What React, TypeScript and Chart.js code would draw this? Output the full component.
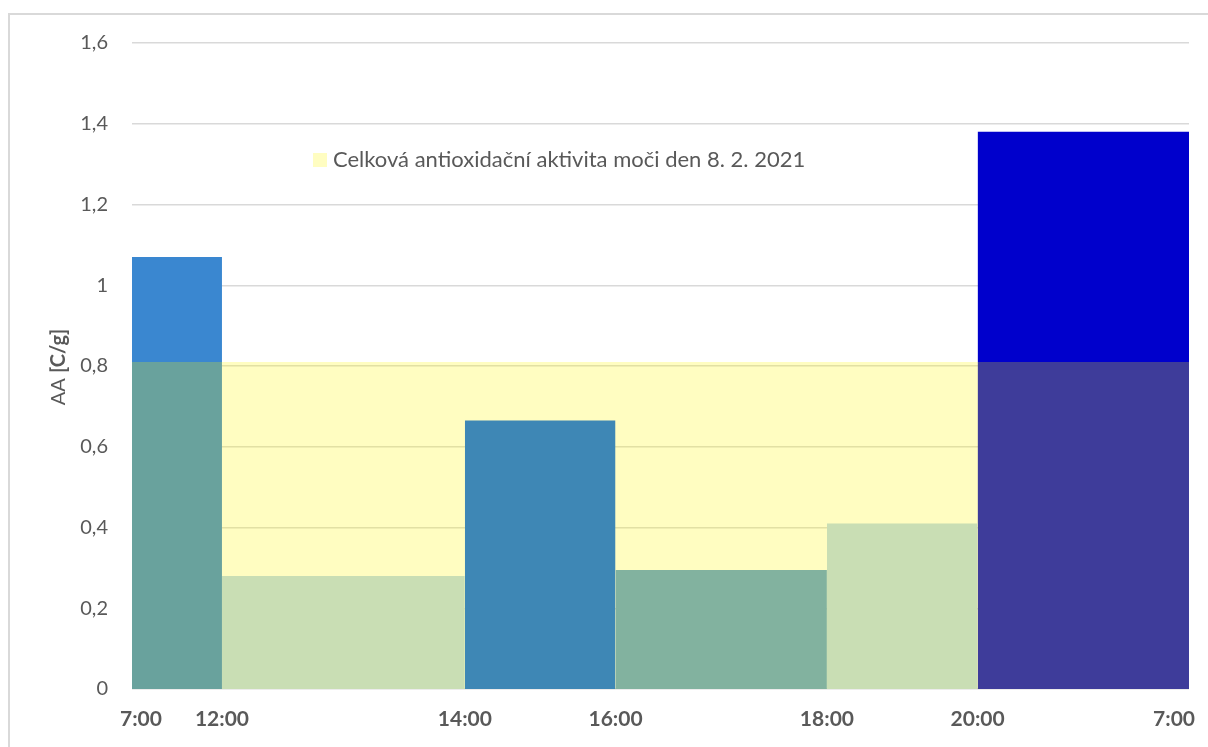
import { useEffect, useRef } from "react";
import { Chart, registerables } from "chart.js";

Chart.register(...registerables);

// Interval boundaries along the x axis (collected volume, ml, cumulative)
const boundaries = [0, 200, 740, 1075, 1545, 1880, 2350];
// Collection times shown at each boundary
const timeLabels = ["7:00", "12:00", "14:00", "16:00", "18:00", "20:00", "7:00"];
// Antioxidant activity of each collected portion
const aaValues = [1.07, 0.28, 0.665, 0.295, 0.41, 1.38];
const barColors = [
  "rgb(58,135,208)",
  "rgb(184,215,238)",
  "rgb(0,100,240)",
  "rgb(90,156,211)",
  "rgb(184,215,238)",
  "rgb(0,0,204)",
];
// Whole-day antioxidant activity
const dailyAA = 0.81;
const dailyLabel = "Celková antioxidační aktivita moči den 8. 2. 2021";
const dailyFill = "rgba(255,247,0,0.243)";
const dailySwatch = "rgb(255,253,193)";

const yMin = 0;
const yMax = 1.6;
const yStep = 0.2;

const FONT = "Lato, 'Open Sans', sans-serif";
const TEXT = "#595959";

const decorations = {
  id: "decorations",
  afterDraw(chart: any) {
    const ctx = chart.ctx as CanvasRenderingContext2D;
    ctx.save();
    // outer frame
    ctx.strokeStyle = "#d9d9d9";
    ctx.lineWidth = 2;
    ctx.strokeRect(9, 14, 1400, 1000);

    // time labels under the x axis; the end labels are kept inside the frame
    const xScale = chart.scales.x;
    ctx.fillStyle = TEXT;
    ctx.font = `bold 21px ${FONT}`;
    ctx.textBaseline = "middle";
    ctx.textAlign = "left";
    const labelY = xScale.top + 30;
    boundaries.forEach((b, i) => {
      const text = timeLabels[i];
      const w = ctx.measureText(text).width;
      const px = xScale.getPixelForValue(b);
      const left = Math.min(Math.max(px - w / 2, 120), 1195 - w);
      ctx.fillText(text, left, labelY);
    });

    // legend inside the plot
    ctx.fillStyle = dailySwatch;
    ctx.fillRect(313, 153, 14, 14);
    ctx.fillStyle = TEXT;
    ctx.font = `22px ${FONT}`;
    ctx.fillText(dailyLabel, 333, 160);

    // y axis title: "AA " regular, "[C/g]" bold
    ctx.translate(59, 367);
    ctx.rotate(-Math.PI / 2);
    const partA = "AA ";
    const partB = "[C/g]";
    ctx.font = `20px ${FONT}`;
    const wA = ctx.measureText(partA).width;
    ctx.font = `bold 20px ${FONT}`;
    const wB = ctx.measureText(partB).width;
    const start = -(wA + wB) / 2;
    ctx.font = `20px ${FONT}`;
    ctx.fillText(partA, start, 0);
    ctx.font = `bold 20px ${FONT}`;
    ctx.fillText(partB, start + wA, 0);
    ctx.restore();
  },
};

export default function App() {
  const canvasRef = useRef<HTMLCanvasElement | null>(null);

  useEffect(() => {
    if (!canvasRef.current) return;

    const portionSets = aaValues.map((v, i) => ({
      label: `${timeLabels[i]}–${timeLabels[i + 1]}`,
      data: [
        { x: boundaries[i], y: v },
        { x: boundaries[i + 1], y: v },
      ],
      backgroundColor: barColors[i],
      borderWidth: 0,
      pointRadius: 0,
      fill: "origin",
      order: 1,
    }));

    const daySet = {
      label: dailyLabel,
      data: [
        { x: boundaries[0], y: dailyAA },
        { x: boundaries[boundaries.length - 1], y: dailyAA },
      ],
      backgroundColor: dailyFill,
      borderWidth: 0,
      pointRadius: 0,
      fill: "origin",
      order: 0,
    };

    const chart = new Chart(canvasRef.current, {
      type: "line",
      data: { datasets: [daySet, ...portionSets] as any },
      plugins: [decorations],
      options: {
        animation: false,
        responsive: true,
        maintainAspectRatio: false,
        layout: { padding: { top: 43, right: 19, left: 0, bottom: 0 } },
        plugins: {
          legend: { display: false },
          tooltip: { enabled: false },
        },
        scales: {
          x: {
            type: "linear",
            min: boundaries[0],
            max: boundaries[boundaries.length - 1],
            afterBuildTicks: (scale: any) => {
              scale.ticks = boundaries.map((b) => ({ value: b }));
            },
            afterFit: (scale: any) => {
              scale.height = 58;
              scale.paddingLeft = 0;
              scale.paddingRight = 0;
            },
            grid: { display: false, drawTicks: false },
            border: { display: false },
            ticks: { display: false },
          },
          y: {
            min: yMin,
            max: yMax,
            afterFit: (scale: any) => {
              scale.width = 132;
            },
            grid: { color: "#d9d9d9", lineWidth: 1.5, drawTicks: false },
            border: { display: false },
            ticks: {
              stepSize: yStep,
              padding: 24,
              color: TEXT,
              font: { family: FONT, size: 20 },
              callback: (v: any) =>
                String(Number(Number(v).toFixed(1))).replace(".", ","),
            },
          },
        },
      },
    });

    return () => chart.destroy();
  }, []);

  return (
    <div style={{ position: "fixed", left: 0, top: 0, width: 1208, height: 747, background: "#fff" }}>
      <canvas ref={canvasRef} />
    </div>
  );
}
